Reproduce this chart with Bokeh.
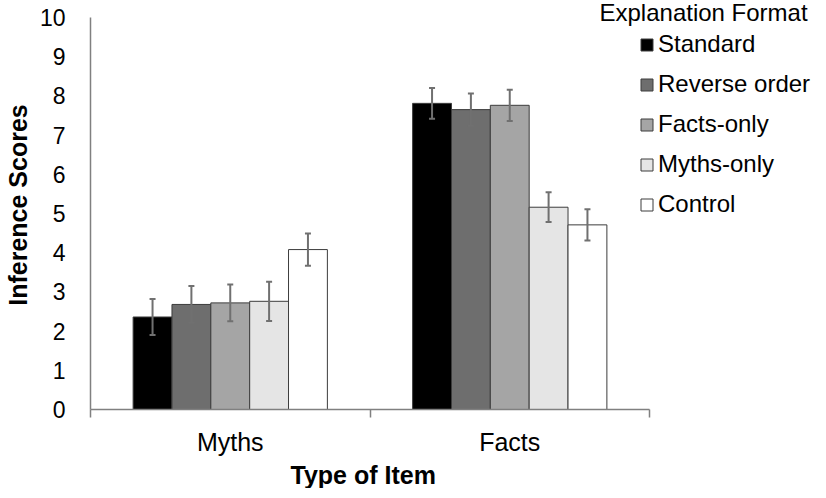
from bokeh.plotting import figure
from bokeh.models import (ColumnDataSource, Range1d, FixedTicker, Whisker, TeeHead,
                          Legend, LegendItem, Label, Title)
from bokeh.embed import file_html
from bokeh.resources import INLINE

categories = ["Myths", "Facts"]
formats = ["Standard", "Reverse order", "Facts-only", "Myths-only", "Control"]
myths_scores = [2.36, 2.68, 2.72, 2.76, 4.08]
facts_scores = [7.81, 7.65, 7.76, 5.16, 4.71]
myths_err = [0.46, 0.47, 0.47, 0.50, 0.41]
facts_err = [0.39, 0.41, 0.40, 0.38, 0.40]
y_ticks = list(range(0, 11))
y_max = 10

colors = ["#000000", "#6e6e6e", "#a5a5a5", "#e5e5e5", "#ffffff"]
FONT = "Liberation Sans"

# layout (pixels)
LEFT, BOTTOM = 87, 73
FRAME_W, FRAME_H = 723, 409
AXIS_W, AXIS_H = 559, 392          # length of the drawn axes
x_end = len(categories) * FRAME_W / AXIS_W
y_end = y_max * FRAME_H / AXIS_H

p = figure(frame_width=FRAME_W, frame_height=FRAME_H, output_backend="svg",
           toolbar_location=None,
           x_range=Range1d(0, x_end), y_range=Range1d(0, y_end),
           min_border_left=LEFT, min_border_right=0, min_border_top=0,
           min_border_bottom=BOTTOM)
p.outline_line_color = None
p.xgrid.visible = False
p.ygrid.visible = False
p.background_fill_color = "white"

bar_w = 0.139
items = []
for j, fmt in enumerate(formats):
    off = (j - (len(formats) - 1) / 2) * bar_w
    tops = [myths_scores[j], facts_scores[j]]
    errs = [myths_err[j], facts_err[j]]
    src = ColumnDataSource(dict(
        x=[i + 0.5 + off for i in range(len(categories))],
        top=tops,
        upper=[t + e for t, e in zip(tops, errs)],
        lower=[t - e for t, e in zip(tops, errs)],
    ))
    r = p.vbar(x="x", top="top", bottom=0, width=bar_w, source=src,
               fill_color=colors[j], line_color="#3c3c3c", line_width=1)
    w = Whisker(base="x", upper="upper", lower="lower", source=src, level="annotation",
                line_color="#707070", line_width=2,
                upper_head=TeeHead(size=6, line_color="#707070", line_width=2),
                lower_head=TeeHead(size=6, line_color="#707070", line_width=2))
    p.add_layout(w)
    items.append(LegendItem(label=fmt, renderers=[r]))

# x axis
xa = p.xaxis[0]
xa.bounds = (0, len(categories))
xa.ticker = FixedTicker(ticks=[i + 0.5 for i in range(len(categories))],
                        minor_ticks=list(range(len(categories) + 1)))
xa.major_label_overrides = {i + 0.5: c for i, c in enumerate(categories)}
xa.major_tick_line_color = None
xa.major_tick_out = 0
xa.major_tick_in = 0
xa.minor_tick_in = 0
xa.minor_tick_out = 8
xa.minor_tick_line_color = "#808080"
xa.minor_tick_line_width = 1.5
xa.axis_line_color = "#808080"
xa.axis_line_width = 1.5
xa.major_label_text_font = FONT
xa.major_label_text_font_size = "25px"
xa.major_label_text_color = "#000000"
xa.major_label_standoff = 10

# x axis title, centred under the drawn axis (not the whole frame)
x_title = Title(text="Type of Item", align="left", offset=200, standoff=0,
                text_font=FONT, text_font_size="25px", text_font_style="bold",
                text_color="#000000")
p.add_layout(x_title, "below")

# y axis
ya = p.yaxis[0]
ya.bounds = (0, y_max)
ya.ticker = FixedTicker(ticks=y_ticks)
ya.major_tick_line_color = None
ya.major_tick_out = 0
ya.major_tick_in = 0
ya.minor_tick_line_color = None
ya.axis_line_color = "#808080"
ya.axis_line_width = 1.5
ya.major_label_text_font = FONT
ya.major_label_text_font_size = "23px"
ya.major_label_text_color = "#000000"
ya.major_label_standoff = 25
ya.axis_label = "Inference Scores"
ya.axis_label_text_font = FONT
ya.axis_label_text_font_size = "25px"
ya.axis_label_text_font_style = "bold"
ya.axis_label_text_color = "#000000"
ya.axis_label_standoff = 5

legend = Legend(items=items, location=(549, 191), orientation="vertical",
                border_line_color=None, background_fill_alpha=0,
                padding=0, margin=0, spacing=12,
                glyph_width=15, glyph_height=15,
                label_standoff=4,
                label_text_font=FONT, label_text_font_size="24px",
                label_text_color="#000000")
p.add_layout(legend, "center")

title = Label(x=509, y=397, x_units="screen", y_units="screen",
              text="Explanation Format", text_font=FONT, text_font_size="24px",
              text_color="#000000", text_baseline="alphabetic", text_align="left")
p.add_layout(title)

open("out.html", "w").write(file_html(p, INLINE))
